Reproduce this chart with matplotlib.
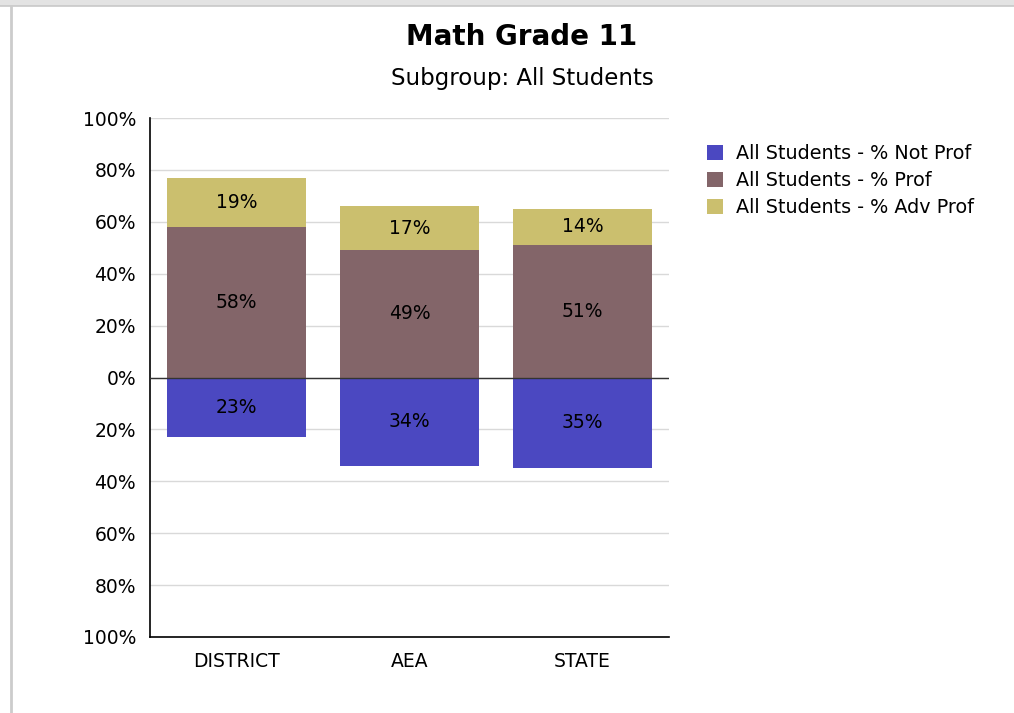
import matplotlib
matplotlib.use("Agg")
import matplotlib.pyplot as plt
from matplotlib.patches import Patch, Rectangle
from matplotlib.lines import Line2D

plt.rcParams['font.family'] = ['DejaVu Sans']

categories = ["DISTRICT", "AEA", "STATE"]
not_prof = [23, 34, 35]
prof = [58, 49, 51]
adv_prof = [19, 17, 14]
series_names = ["All Students - % Not Prof", "All Students - % Prof", "All Students - % Adv Prof"]
colors = ["#4B48C1", "#836569", "#CBBF6E"]
title = "Math Grade 11"
subtitle = "Subgroup: All Students"
yticks = [-100, -80, -60, -40, -20, 0, 20, 40, 60, 80, 100]

W, H = 1014, 713
fig = plt.figure(figsize=(W / 100, H / 100), dpi=100)
fig.patch.set_facecolor("white")

# outer frame decorations
fig.add_artist(Rectangle((0, 1 - 6 / H), 1, 6 / H, transform=fig.transFigure,
                         facecolor="#e3e3e3", edgecolor="none"))
fig.add_artist(Line2D([0, 1], [1 - 6 / H, 1 - 6 / H], transform=fig.transFigure,
                      color="#c8c8c8", lw=1.2))
fig.add_artist(Line2D([11 / W, 11 / W], [0, 1 - 6 / H], transform=fig.transFigure,
                      color="#cccccc", lw=2))

ax = fig.add_axes([150 / W, 1 - 637 / H, (669 - 150) / W, (637 - 118) / H])
x = list(range(len(categories)))
width = 0.8

neg = [-v for v in not_prof]
ax.bar(x, neg, width, color=colors[0], zorder=3)
ax.bar(x, prof, width, color=colors[1], zorder=3)
ax.bar(x, adv_prof, width, bottom=prof, color=colors[2], zorder=3)

fs = 13.5
for i in x:
    ax.text(i, neg[i] / 2, f"{not_prof[i]}%", ha="center", va="center", fontsize=fs, zorder=4)
    ax.text(i, prof[i] / 2, f"{prof[i]}%", ha="center", va="center", fontsize=fs, zorder=4)
    ax.text(i, prof[i] + adv_prof[i] / 2, f"{adv_prof[i]}%", ha="center", va="center",
            fontsize=fs, zorder=4)

ax.set_xlim(-0.5, 2.5)
ax.set_ylim(-100, 100)
ax.set_yticks(yticks)
ax.set_yticklabels([f"{abs(t)}%" for t in yticks], fontsize=fs)
ax.set_xticks(x)
ax.set_xticklabels(categories, fontsize=fs)
ax.tick_params(axis="y", length=0, pad=10)
ax.tick_params(axis="x", length=0, pad=11)
ax.grid(axis="y", color="#d9d9d9", lw=1, zorder=0)
ax.axhline(0, color="#333333", lw=1, zorder=5)
for s in ["top", "right"]:
    ax.spines[s].set_visible(False)
for s in ["left", "bottom"]:
    ax.spines[s].set_color("black")
    ax.spines[s].set_linewidth(1.2)

fig.text(522 / W, 1 - 37 / H, title, ha="center", va="center", fontsize=20, fontweight="bold")
fig.text(522 / W, 1 - 78 / H, subtitle, ha="center", va="center", fontsize=16.5)

handles = [Patch(facecolor=c, edgecolor="none") for c in colors]
fig.legend(handles, series_names, loc="upper left",
           bbox_to_anchor=(703 / W, 1 - 140 / H), frameon=False, fontsize=13.8,
           handlelength=0.85, handleheight=0.85, handletextpad=0.65, labelspacing=0.42,
           borderaxespad=0, borderpad=0.2)

fig.savefig("out.png", dpi=100)
